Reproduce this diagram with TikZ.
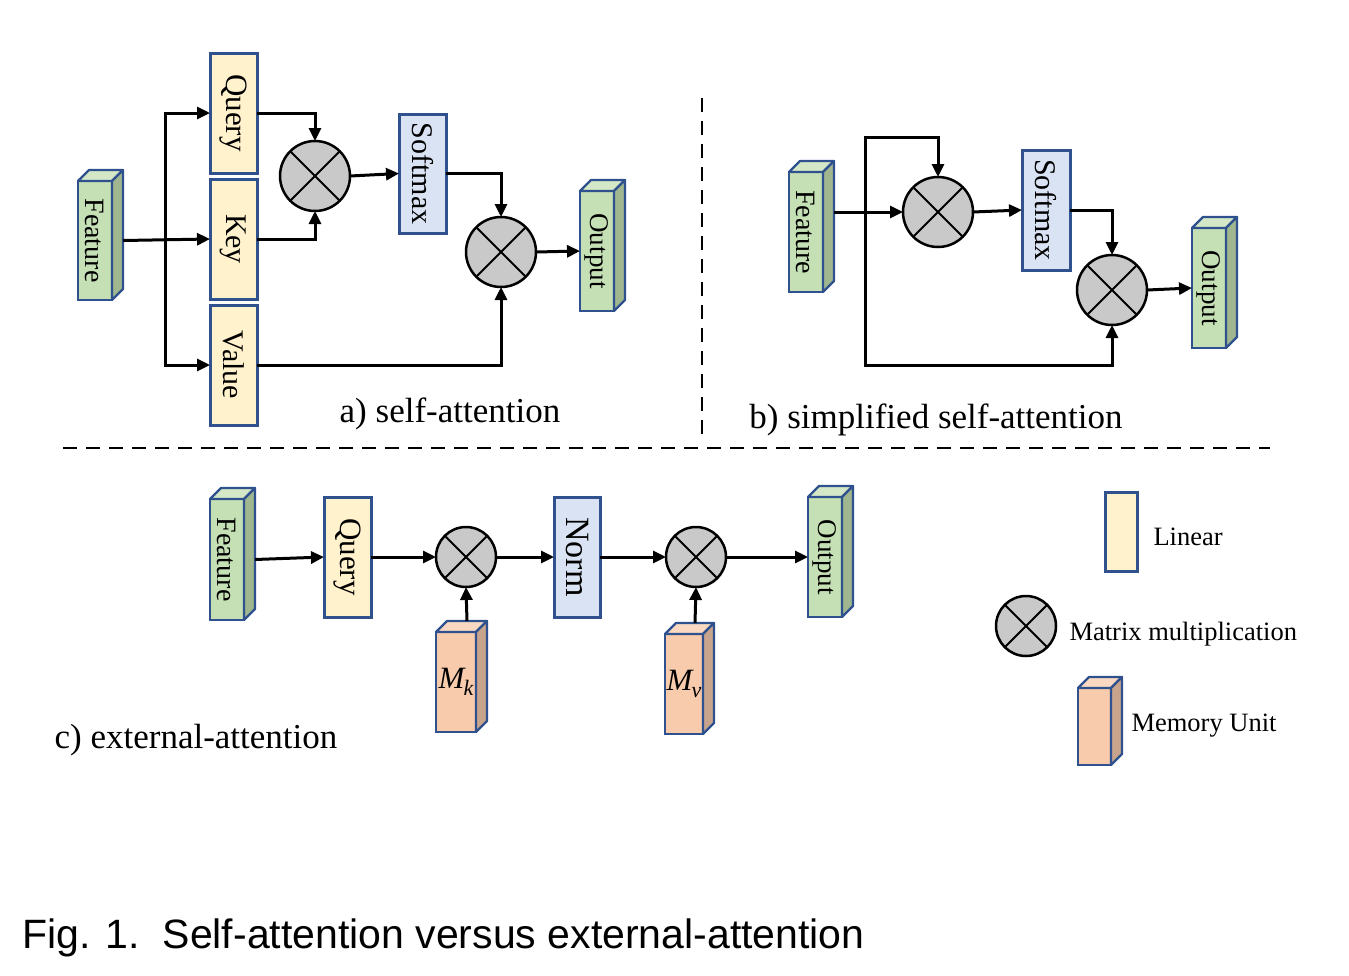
\documentclass[tikz,border=0pt]{standalone}
\usepackage{fontspec}
\setmainfont{Liberation Serif}
\newfontfamily\capfont{Liberation Sans}
\usetikzlibrary{arrows.meta,calc}
\definecolor{bdr}{HTML}{2F528F}
\definecolor{linfill}{HTML}{FFF2CC}
\definecolor{softfill}{HTML}{DAE3F3}
\definecolor{mulfill}{HTML}{C9C9C9}
\definecolor{gfront}{HTML}{C5E0B4}
\definecolor{gside}{HTML}{A0B68F}
\definecolor{gtop}{HTML}{D4E7C6}
\definecolor{ofront}{HTML}{F8CBAD}
\definecolor{oside}{HTML}{C8A48C}
\definecolor{otop}{HTML}{FAD8C2}
\tikzset{
  lin/.style={draw=bdr, fill=linfill, line width=3pt, inner sep=0pt, outer sep=0pt},
  soft/.style={lin, fill=softfill},
  cubef/.style={draw=bdr, line width=2.2pt, inner sep=0pt, outer sep=0pt},
  face/.style={draw=bdr, line width=2.2pt, line join=round},
  mul/.style={circle, draw=black, fill=mulfill, line width=2.5pt, minimum size=70pt, inner sep=0pt, outer sep=0pt},
  xl/.style={line width=2pt},
  arr/.style={line width=3pt, -{Triangle[length=13pt,width=12pt]}},
  dsh/.style={line width=2.5pt, dash pattern=on 14pt off 9pt},
  lbl/.style={font=\fontsize{35}{40}\selectfont},
  lgd/.style={font=\fontsize{26.5}{30}\selectfont, anchor=west},
  bx/.style={font=\fontsize{30}{30}\selectfont},
}
\newcommand{\cubefaces}[4]{%
  \draw[face, fill=#4] (#1.north west) -- ++(#2,-#2) -- ($(#1.north east)+(#2,-#2)$) -- (#1.north east) -- cycle;
  \draw[face, fill=#3] (#1.north east) -- ++(#2,-#2) -- ($(#1.south east)+(#2,-#2)$) -- (#1.south east) -- cycle;
}
\newcommand{\mulx}[1]{%
  \draw[xl] (#1.north west) -- (#1.south east) (#1.north east) -- (#1.south west);
}
\begin{document}
\begin{tikzpicture}[x=1pt,y=-1pt]
\useasboundingbox (0,0) rectangle (1349,975);

% ---------------- panel a ----------------
\node[cubef, fill=gfront, minimum width=34pt, minimum height=119pt, font=\fontsize{28}{28}\selectfont] (fa) at (95,240.5) {\rotatebox{-90}{Feature}};
\cubefaces{fa}{11}{gside}{gtop}
\node[lin, minimum width=47pt, minimum height=120pt, font=\fontsize{31}{31}\selectfont] (q) at (233.5,113) {\rotatebox{-90}{Query}};
\node[lin, minimum width=47pt, minimum height=120pt, bx] (k) at (233.5,239) {\rotatebox{-90}{Key}};
\node[lin, minimum width=47pt, minimum height=120pt, bx] (v) at (233.5,365) {\rotatebox{-90}{Value}};
\node[mul] (m1) at (315,176) {};
\mulx{m1}
\node[soft, minimum width=47pt, minimum height=119pt, bx] (sm) at (422.5,173.5) {\rotatebox{-90}{Softmax}};
\node[mul] (m2) at (501,252) {};
\mulx{m2}
\node[cubef, fill=gfront, minimum width=34pt, minimum height=120pt, font=\fontsize{27}{27}\selectfont] (oa) at (597,251) {\rotatebox{-90}{Output}};
\cubefaces{oa}{11}{gside}{gtop}
\coordinate (ba) at (165,240);

\draw[arr] ($(fa.east)+(11,0)$) -- (k.west);
\draw[arr] (v.west -| ba) |- (q.west);
\draw[arr] (q.west -| ba) |- (v.west);
\draw[arr] (q.east) -| (m1.north);
\draw[arr] (k.east) -| (m1.south);
\draw[arr] (m1.east) -- (sm.west);
\draw[arr] (sm.east) -| (m2.north);
\draw[arr] (v.east) -| (m2.south);
\draw[arr] (m2.east) -- (oa.west);
\node[lbl] (la) at (450,414) {a) self-attention};

% ---------------- panel b ----------------
\node[cubef, fill=gfront, minimum width=34pt, minimum height=120pt, font=\fontsize{28}{28}\selectfont] (fb) at (806,232) {\rotatebox{-90}{Feature}};
\cubefaces{fb}{11}{gside}{gtop}
\node[mul] (m3) at (938,212) {};
\mulx{m3}
\node[soft, minimum width=48pt, minimum height=120pt, bx] (sb) at (1046,210) {\rotatebox{-90}{Softmax}};
\node[mul] (m4) at (1112,290) {};
\mulx{m4}
\node[cubef, fill=gfront, minimum width=34pt, minimum height=120pt, font=\fontsize{27}{27}\selectfont] (ob) at (1209,288) {\rotatebox{-90}{Output}};
\cubefaces{ob}{11}{gside}{gtop}
\coordinate (bbt) at (865,137);
\coordinate (bbb) at (865,365);

\draw[arr] ($(fb.east |- m3.west)+(11,0)$) -- (m3.west);
\draw[arr] (bbb) -- (bbt) -| (m3.north);
\draw[arr] (bbt) -- (bbb) -| (m4.south);
\draw[arr] (m3.east) -- (sb.west);
\draw[arr] (sb.east) -| (m4.north);
\draw[arr] (m4.east) -- (ob.west);
\node[lbl] (lb) at (936,420) {b) simplified self-attention};

% ---------------- separators ----------------
\coordinate (dv1) at (702,98);
\coordinate (dv2) at (702,443);
\coordinate (dh1) at (63,448);
\coordinate (dh2) at (1270,448);
\draw[dsh] (dv1) -- (dv2);
\draw[dsh] (dh1) -- (dh2);

% ---------------- panel c ----------------
\node[cubef, fill=gfront, minimum width=34pt, minimum height=121pt, font=\fontsize{28}{28}\selectfont] (fc) at (227,559.5) {\rotatebox{-90}{Feature}};
\cubefaces{fc}{11}{gside}{gtop}
\node[lin, minimum width=47pt, minimum height=120pt, font=\fontsize{31}{31}\selectfont] (qc) at (347.5,557) {\rotatebox{-90}{Query}};
\node[mul, minimum size=60pt] (m5) at (466,557) {};
\mulx{m5}
\node[soft, minimum width=46pt, minimum height=120pt, font=\fontsize{34}{34}\selectfont] (nc) at (577,557) {\rotatebox{-90}{Norm}};
\node[mul, minimum size=60pt] (m6) at (696,557) {};
\mulx{m6}
\node[cubef, fill=gfront, minimum width=34pt, minimum height=120pt, font=\fontsize{27}{27}\selectfont] (oc) at (825,557) {\rotatebox{-90}{Output}};
\cubefaces{oc}{11}{gside}{gtop}
\node[cubef, fill=ofront, minimum width=40pt, minimum height=100pt, font=\fontsize{31}{31}\selectfont\itshape] (mk) at (456,682) {M\kern-1pt\raisebox{-7pt}{\fontsize{22}{22}\selectfont k}};
\cubefaces{mk}{11}{oside}{otop}
\node[cubef, fill=ofront, minimum width=38pt, minimum height=100pt, font=\fontsize{31}{31}\selectfont\itshape] (mv) at (684,684) {M\kern-1pt\raisebox{-7pt}{\fontsize{22}{22}\selectfont v}};
\cubefaces{mv}{11}{oside}{otop}

\draw[arr] ($(fc.east)+(11,0)$) -- (qc.west);
\draw[arr] (qc.east) -- (m5.west);
\draw[arr] (m5.east) -- (nc.west);
\draw[arr] (nc.east) -- (m6.west);
\draw[arr] (m6.east) -- (oc.west);
\draw[arr] ($(mk.north)+(11,-11)$) -- (m5.south);
\draw[arr] ($(mv.north)+(11,-11)$) -- (m6.south);
\node[lbl] (lc) at (196,740) {c) external-attention};

% ---------------- legend ----------------
\node[lin, minimum width=32pt, minimum height=79pt] (ll) at (1121,531.5) {};
\node[lgd] (llt) at (1150,537) {Linear};
\node[mul, minimum size=60pt] (lm) at (1026,626) {};
\mulx{lm}
\node[lgd] (lmt) at (1066,634) {Matrix multiplication};
\node[cubef, fill=ofront, minimum width=33pt, minimum height=77pt] (lu) at (1094.5,726.5) {};
\cubefaces{lu}{11}{oside}{otop}
\node[lgd] (lut) at (1128,726) {Memory Unit};

% ---------------- caption ----------------
\node[anchor=base west, inner sep=0pt, font=\capfont\fontsize{41}{45}\selectfont] (cap) at (22,948) {Fig. 1.\ \ Self-attention versus external-attention};
\end{tikzpicture}
\end{document}
